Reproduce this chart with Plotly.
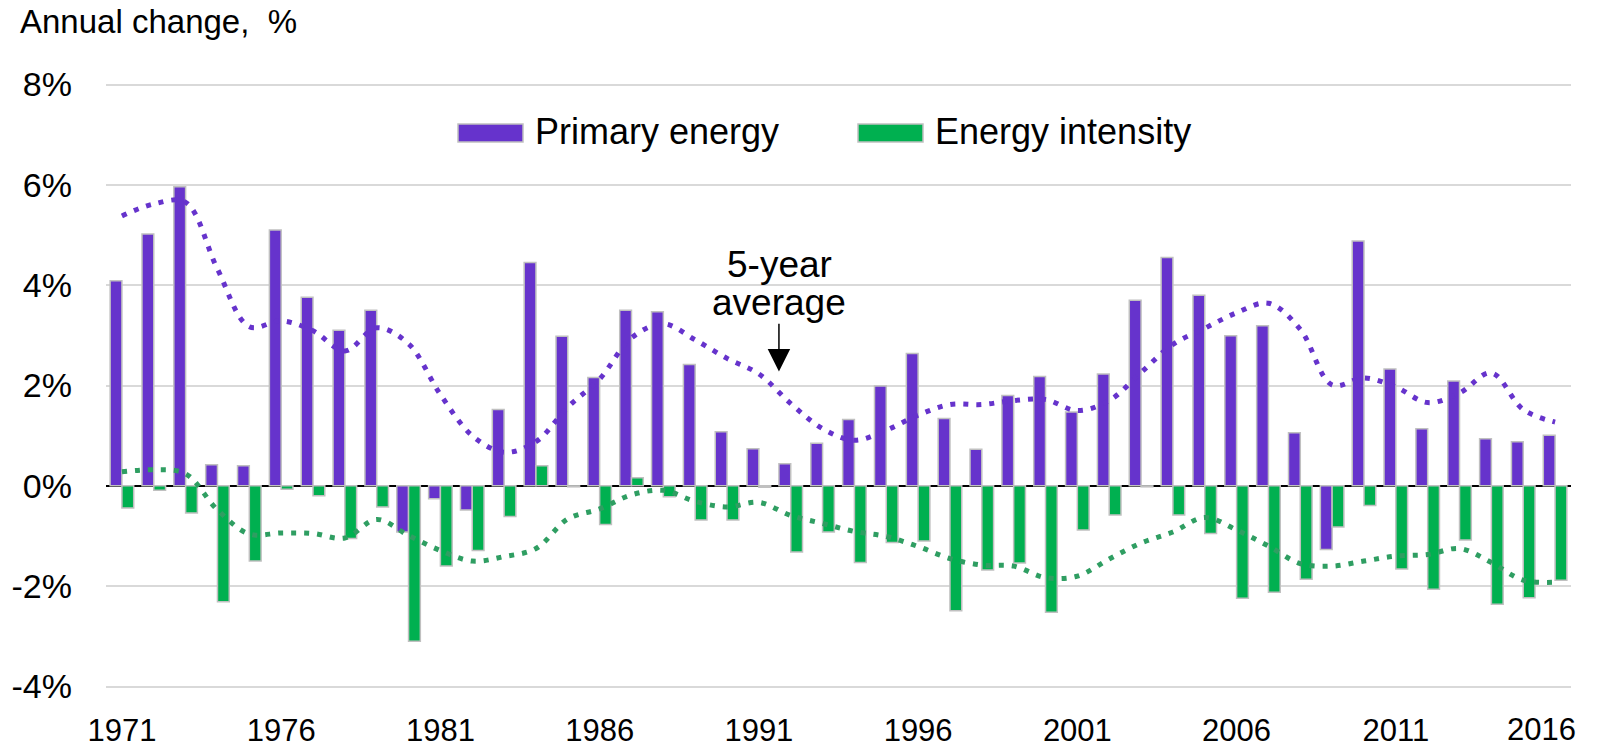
import plotly.graph_objects as go

years = list(range(1971, 2017))
primary_energy = [4.09, 5.02, 5.96, 0.42, 0.40, 5.10, 3.76, 3.10, 3.50, -0.92,
                  -0.26, -0.48, 1.52, 4.45, 2.98, 2.16, 3.50, 3.47, 2.42, 1.08,
                  0.74, 0.44, 0.85, 1.32, 1.99, 2.64, 1.34, 0.73, 1.80, 2.18,
                  1.47, 2.23, 3.70, 4.55, 3.80, 2.99, 3.19, 1.06, -1.27, 4.88,
                  2.33, 1.14, 2.09, 0.94, 0.88, 1.01]
energy_intensity = [-0.44, -0.09, -0.54, -2.31, -1.50, -0.07, -0.20, -1.05, -0.42, -3.10,
                    -1.60, -1.29, -0.61, 0.40, -0.02, -0.77, 0.16, -0.22, -0.68, -0.68,
                    -0.03, -1.32, -0.92, -1.53, -1.13, -1.10, -2.49, -1.68, -1.54, -2.52,
                    -0.88, -0.58, -0.02, -0.58, -0.95, -2.24, -2.12, -1.86, -0.82, -0.39,
                    -1.66, -2.06, -1.08, -2.36, -2.23, -1.88]
primary_avg = [5.38, 5.62, 5.65, 4.32, 3.17, 3.29, 3.09, 2.69, 3.15, 2.83,
               1.82, 1.00, 0.67, 0.88, 1.57, 2.13, 2.95, 3.23, 2.91, 2.54,
               2.23, 1.64, 1.14, 0.91, 1.11, 1.41, 1.62, 1.62, 1.70, 1.72,
               1.50, 1.70, 2.26, 2.82, 3.14, 3.45, 3.64, 3.12, 2.01, 2.15,
               1.97, 1.66, 1.85, 2.25, 1.52, 1.27]
intensity_avg = [0.28, 0.32, 0.24, -0.48, -0.96, -0.94, -0.95, -1.04, -0.67, -0.99,
                 -1.29, -1.50, -1.41, -1.25, -0.66, -0.46, -0.18, -0.09, -0.31, -0.42,
                 -0.33, -0.59, -0.75, -0.91, -1.01, -1.21, -1.45, -1.58, -1.60, -1.83,
                 -1.80, -1.46, -1.14, -0.92, -0.63, -0.88, -1.20, -1.55, -1.60, -1.50,
                 -1.40, -1.37, -1.25, -1.53, -1.88, -1.92]
x_ticks = list(range(1971, 2017, 5))
y_ticks = [-4, -2, 0, 2, 4, 6, 8]
y_tick_labels = ["-4%", "-2%", "0%", "2%", "4%", "6%", "8%"]

PURPLE = "#6633cc"
GREEN = "#00b050"
GREEN_AVG = "#2f9e62"
EDGE = "#c0c0c0"
FONT = "Liberation Sans, Arial, sans-serif"

fig = go.Figure()
fig.add_trace(go.Bar(x=years, y=primary_energy, name="Primary energy",
                     marker=dict(color=PURPLE, line=dict(color=EDGE, width=1.5))))
fig.add_trace(go.Bar(x=years, y=energy_intensity, name="Energy intensity",
                     marker=dict(color=GREEN, line=dict(color=EDGE, width=1.5))))
fig.add_trace(go.Scatter(x=years, y=primary_avg, mode="lines",
                         line=dict(color=PURPLE, width=5, dash="5px,8px", shape="spline", smoothing=1.0),
                         showlegend=False))
fig.add_trace(go.Scatter(x=years, y=intensity_avg, mode="lines",
                         line=dict(color=GREEN_AVG, width=5, dash="5px,8px", shape="spline", smoothing=1.0),
                         showlegend=False))

L, R, T, B = 106, 26, 83, 60
W, H = 1597, 748
PW, PH = W - L - R, H - T - B

def px(x):
    return (x - L) / PW

def py(y):
    return (H - B - y) / PH

shapes = [
    dict(type="rect", xref="paper", yref="paper", x0=px(458), x1=px(523), y0=py(142), y1=py(124),
         fillcolor=PURPLE, line=dict(color=EDGE, width=1.5)),
    dict(type="rect", xref="paper", yref="paper", x0=px(858), x1=px(923), y0=py(142), y1=py(124),
         fillcolor=GREEN, line=dict(color=EDGE, width=1.5)),
]

annotations = [
    dict(text="Annual change,\u00a0 %", xref="paper", yref="paper", x=px(18), y=py(22),
         xanchor="left", yanchor="middle", showarrow=False, font=dict(size=33, color="#000")),
    dict(text="Primary energy", xref="paper", yref="paper", x=px(533), y=py(131),
         xanchor="left", yanchor="middle", showarrow=False, font=dict(size=36, color="#000")),
    dict(text="Energy intensity", xref="paper", yref="paper", x=px(933), y=py(131),
         xanchor="left", yanchor="middle", showarrow=False, font=dict(size=36, color="#000")),
    dict(text="5-year", xref="paper", yref="paper", x=px(779), y=py(264),
         xanchor="center", yanchor="middle", showarrow=False, font=dict(size=37, color="#000")),
    dict(text="average", xref="paper", yref="paper", x=px(779), y=py(302),
         xanchor="center", yanchor="middle", showarrow=False, font=dict(size=37, color="#000")),
    dict(text="", x=1991.63, y=2.28, ax=1991.63, ay=3.26, xref="x", yref="y", axref="x", ayref="y",
         showarrow=True, arrowhead=2, arrowsize=3, arrowwidth=1.5, arrowcolor="#000"),
    dict(text=str(years[-1]), x=years[-1], y=0, xref="x", yref="paper", xanchor="center",
         yanchor="middle", yshift=-41, xshift=-14, showarrow=False, font=dict(size=31, color="#000")),
]

fig.update_layout(
    width=W, height=H,
    margin=dict(l=L, r=R, t=T, b=B, autoexpand=False),
    paper_bgcolor="white", plot_bgcolor="white",
    barmode="group", bargap=0.26, bargroupgap=0,
    showlegend=False,
    font=dict(family=FONT, size=32, color="#000"),
    shapes=shapes, annotations=annotations,
    xaxis=dict(range=[1970.5, 2016.5], tickmode="array", tickvals=x_ticks[:-1],
               ticktext=[str(t) for t in x_ticks[:-1]], showgrid=False, zeroline=False,
               showline=False, ticks="", ticklabelstandoff=21, automargin=False,
               tickfont=dict(size=31, color="#000")),
    yaxis=dict(range=[-4.03, 8.03], tickmode="array", tickvals=y_ticks, ticktext=y_tick_labels,
               showgrid=True, gridcolor="#d9d9d9", gridwidth=1.5,
               zeroline=True, zerolinecolor="#000", zerolinewidth=2,
               showline=False, ticks="", ticklabelstandoff=33, automargin=False,
               tickfont=dict(size=34, color="#000")),
)

fig.write_html("out.html", config={"displayModeBar": False},
               post_script="document.body.style.margin='0';document.body.style.overflow='hidden';")
